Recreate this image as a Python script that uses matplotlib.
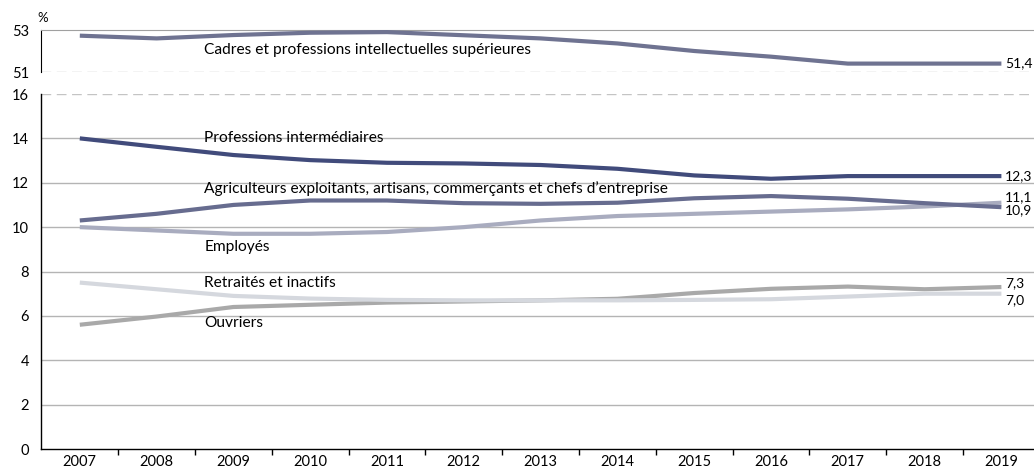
import numpy as np
import matplotlib.pyplot as plt

plt.rcParams['font.family'] = ['Lato', 'DejaVu Sans']

years = ['2007', '2008', '2009', '2010', '2011', '2012', '2013',
         '2014', '2015', '2016', '2017', '2018', '2019']

cadres = [52.73, 52.6, 52.76, 52.87, 52.9, 52.75, 52.6, 52.36, 52.0, 51.73, 51.4, 51.4, 51.4]
prof_inter = [14.0, 13.62, 13.25, 13.02, 12.9, 12.87, 12.8, 12.63, 12.33, 12.18, 12.3, 12.3, 12.3]
agriculteurs = [10.3, 10.6, 11.0, 11.2, 11.2, 11.08, 11.05, 11.1, 11.3, 11.4, 11.28, 11.08, 10.9]
employes = [10.0, 9.85, 9.7, 9.7, 9.78, 10.0, 10.3, 10.5, 10.6, 10.7, 10.8, 10.93, 11.1]
retraites = [7.5, 7.2, 6.9, 6.78, 6.72, 6.7, 6.7, 6.7, 6.72, 6.75, 6.87, 7.0, 7.0]
ouvriers = [5.6, 5.97, 6.4, 6.5, 6.6, 6.65, 6.7, 6.77, 7.03, 7.22, 7.32, 7.2, 7.3]

names = ['Cadres et professions intellectuelles supérieures',
         'Professions intermédiaires',
         "Agriculteurs exploitants, artisans, commerçants et chefs d\u2019entreprise",
         'Employés',
         'Retraités et inactifs',
         'Ouvriers']
end_labels = ['51,4', '12,3', '10,9', '11,1', '7,0', '7,3']

top_ticks = [51, 53]
bottom_ticks = [0, 2, 4, 6, 8, 10, 12, 14, 16]

colors = ['#6f7391', '#414b7b', '#676c8f', '#a9acbf', '#d5d8de', '#a9a9a9']

fig = plt.figure(figsize=(10.34, 4.69), dpi=100)
W, H = 1034.0, 469.0
left = 41.4 / W
width = 13 * 76.8 / W
ax_top = fig.add_axes([left, (H - 72) / H, width, 42 / H])
ax = fig.add_axes([left, (H - 449) / H, width, 355 / H])

x = np.arange(len(years))

# bottom panel
series = [prof_inter, agriculteurs, employes, retraites, ouvriers]
for s, c in zip(series[::-1], colors[1:][::-1]):
    ax.plot(x, s, color=c, lw=3, solid_capstyle='butt', zorder=3)

ax.set_xlim(-0.5, len(years) - 0.5)
ax.set_ylim(0, 16)
ax.set_yticks(bottom_ticks)
ax.set_yticklabels([str(t) for t in bottom_ticks])
for t in bottom_ticks[1:-1]:
    ax.axhline(t, color='#b4b4b4', lw=1, zorder=1)
ax.axhline(16, color='#c4c4c4', lw=1, dashes=(7, 4), zorder=1)
ax.set_xticks(x)
ax.set_xticklabels(years)
ax.set_xticks(np.arange(len(years) - 1) + 0.5, minor=True)
ax.tick_params(axis='x', which='major', length=0, labelsize=10.5, pad=4.5)
ax.tick_params(axis='x', which='minor', length=4.5, width=1, direction='out')
ax.tick_params(axis='y', length=0, labelsize=10.5, pad=9)
for sp in ['top', 'right']:
    ax.spines[sp].set_visible(False)
ax.spines['left'].set_linewidth(1)
ax.spines['bottom'].set_linewidth(1)

# top panel
ax_top.plot(x, cadres, color=colors[0], lw=3, solid_capstyle='butt', zorder=3)
ax_top.set_xlim(-0.5, len(years) - 0.5)
ax_top.set_ylim(51, 53)
ax_top.set_yticks(top_ticks)
ax_top.set_yticklabels([str(t) for t in top_ticks])
ax_top.set_xticks([])
ax_top.tick_params(axis='y', length=0, labelsize=10.5, pad=9)
ax_top.axhline(51, color='#c4c4c4', lw=1, dashes=(7, 4), zorder=1)
ax_top.spines['right'].set_visible(False)
ax_top.spines['bottom'].set_visible(False)
ax_top.spines['top'].set_color('#a0a0a0')
ax_top.text(-0.55, 53.3, '%', ha='left', va='bottom', fontsize=9.5)

# series names
ax_top.text(1.62, 52.05, names[0], fontsize=11.2, va='center', ha='left')
name_y = [14.0, 11.72, 9.1, 7.5, 5.68]
for n, yy in zip(names[1:], name_y):
    ax.text(1.62, yy, n, fontsize=11.2, va='center', ha='left')

# end values
xe = len(years) - 1 + 0.05
fs = 10
ax_top.text(xe, cadres[-1], end_labels[0], fontsize=fs, va='center', ha='left')
ax.text(xe, prof_inter[-1], end_labels[1], fontsize=fs, va='center', ha='left')
ax.text(xe, employes[-1] + 0.25, end_labels[3], fontsize=fs, va='center', ha='left')
ax.text(xe, agriculteurs[-1] - 0.15, end_labels[2], fontsize=fs, va='center', ha='left')
ax.text(xe, ouvriers[-1] + 0.18, end_labels[5], fontsize=fs, va='center', ha='left')
ax.text(xe, retraites[-1] - 0.3, end_labels[4], fontsize=fs, va='center', ha='left')

fig.savefig('out.png', dpi=100)
